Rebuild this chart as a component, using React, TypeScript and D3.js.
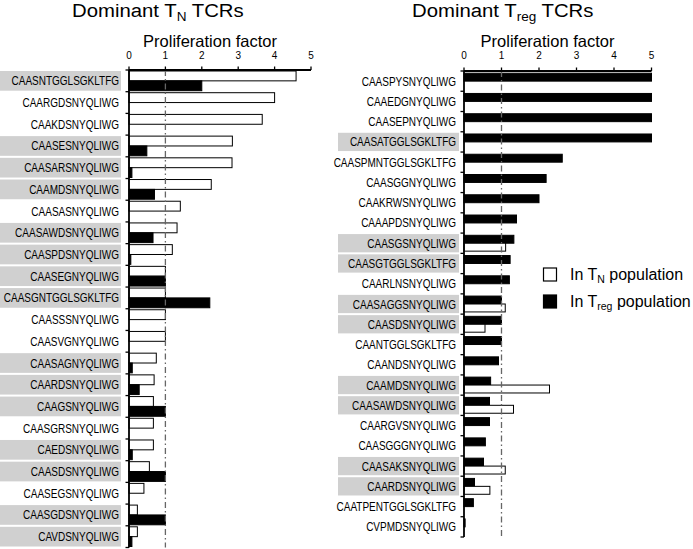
import React from "react";
import * as d3 from "d3";

const leftLabels = [
  "CAASNTGGLSGKLTFG", "CAARGDSNYQLIWG", "CAAKDSNYQLIWG", "CAASESNYQLIWG",
  "CAASARSNYQLIWG", "CAAMDSNYQLIWG", "CAASASNYQLIWG", "CAASAWDSNYQLIWG",
  "CAASPDSNYQLIWG", "CAASEGNYQLIWG", "CAASGNTGGLSGKLTFG", "CAASSSNYQLIWG",
  "CAASVGNYQLIWG", "CAASAGNYQLIWG", "CAARDSNYQLIWG", "CAAGSNYQLIWG",
  "CAASGRSNYQLIWG", "CAEDSNYQLIWG", "CAASDSNYQLIWG", "CAASEGSNYQLIWG",
  "CAASGDSNYQLIWG", "CAVDSNYQLIWG",
];
const leftTN = [4.59, 4.0, 3.66, 2.84, 2.83, 2.26, 1.41, 1.32, 1.19, 1.0, 1.0, 1.0, 1.0, 0.75, 0.69, 0.67, 0.67, 0.67, 0.56, 0.41, 0.23, 0.23];
const leftTreg = [2.0, 0, 0, 0.49, 0.08, 0.7, 0, 0.66, 0.05, 1.0, 2.22, 0, 0, 0.09, 0.28, 1.0, 0, 0.09, 1.0, 0, 1.0, 0.08];
const leftShaded = [1, 0, 0, 1, 1, 1, 0, 1, 1, 1, 1, 0, 0, 1, 1, 1, 0, 1, 1, 0, 1, 1];

const rightLabels = [
  "CAASPYSNYQLIWG", "CAAEDGNYQLIWG", "CAASEPNYQLIWG", "CAASATGGLSGKLTFG",
  "CAASPMNTGGLSGKLTFG", "CAASGGNYQLIWG", "CAAKRWSNYQLIWG", "CAAAPDSNYQLIWG",
  "CAASGSNYQLIWG", "CAASGTGGLSGKLTFG", "CAARLNSNYQLIWG", "CAASAGGSNYQLIWG",
  "CAASDSNYQLIWG", "CAANTGGLSGKLTFG", "CAANDSNYQLIWG", "CAAMDSNYQLIWG",
  "CAASAWDSNYQLIWG", "CAARGVSNYQLIWG", "CAASGGGNYQLIWG", "CAASAKSNYQLIWG",
  "CAARDSNYQLIWG", "CAATPENTGGLSGKLTFG", "CVPMDSNYQLIWG",
];
const rightTreg = [5, 5, 5, 5, 2.62, 2.19, 2.0, 1.4, 1.33, 1.23, 1.21, 1.0, 1.0, 1.0, 0.92, 0.71, 0.68, 0.68, 0.57, 0.52, 0.28, 0.25, 0.03];
const rightTN = [0, 0, 0, 0, 0, 0, 0, 0, 1.11, 0, 0, 1.1, 0.56, 0, 0, 2.28, 1.32, 0, 0, 1.1, 0.69, 0, 0];
const rightShaded = [0, 0, 0, 1, 0, 0, 0, 0, 1, 1, 0, 1, 1, 0, 0, 1, 1, 0, 0, 1, 1, 0, 0];

const xTicks = [0, 1, 2, 3, 4, 5];

const FONT = "'Liberation Sans', Arial, Helvetica, sans-serif";

type PanelProps = {
  labels: string[];
  top: number[];
  bottom: number[];
  topBlack: boolean;
  shaded: number[];
  xRange: [number, number];
  yRange: [number, number];
  grayX: [number, number];
  labelX: number;
  barOffset: number;
  axisTitleX: number;
};

function Panel(p: PanelProps) {
  const x = d3.scaleLinear().domain([0, 5]).range(p.xRange);
  const y = d3.scaleBand<number>().domain(p.labels.map((_, i) => i)).range(p.yRange).padding(0);
  const bw = y.bandwidth();
  const h = (bw - 2 * p.barOffset) / 2;
  const axisY = p.yRange[0];
  const x0 = x(0);
  const rows = p.labels.map((lab, i) => {
    const yt = y(i)!;
    const topV = p.top[i];
    const botV = p.bottom[i];
    return (
      <g key={i}>
        {p.shaded[i] ? (
          <rect x={p.grayX[0]} y={yt + 1} width={p.grayX[1] - p.grayX[0]} height={bw - 2} fill="#d0d0d0" />
        ) : null}
        <text
          transform={`translate(${p.labelX},${yt + bw / 2}) scale(0.8,1)`}
          textAnchor="end"
          dy="0.36em"
          fontSize={12.5}
          fontFamily={FONT}
          fill="#000"
        >
          {lab}
        </text>
        {topV > 0 ? (
          <rect
            x={x0}
            y={yt + p.barOffset}
            width={x(topV) - x0}
            height={h}
            fill={p.topBlack ? "#000" : "#fff"}
            stroke="#000"
            strokeWidth={1}
          />
        ) : null}
        {botV > 0 ? (
          <rect
            x={x0}
            y={yt + p.barOffset + h}
            width={x(botV) - x0}
            height={h}
            fill={p.topBlack ? "#fff" : "#000"}
            stroke="#000"
            strokeWidth={1}
          />
        ) : null}
      </g>
    );
  });
  const boundaries = p.labels.map((_, i) => y(i)!).concat([p.yRange[1]]);
  return (
    <g>
      {rows}
      <line x1={x(1)} x2={x(1)} y1={axisY} y2={p.yRange[1]} stroke="#666" strokeWidth={1.3} strokeDasharray="6,3,1.5,3" />
      <line x1={x0} x2={x(5)} y1={axisY} y2={axisY} stroke="#000" strokeWidth={1.8} />
      <line x1={x0} x2={x0} y1={axisY} y2={p.yRange[1]} stroke="#000" strokeWidth={1.8} />
      {xTicks.map((t) => (
        <g key={t}>
          <line x1={x(t)} x2={x(t)} y1={axisY} y2={axisY - 3.5} stroke="#000" strokeWidth={1.3} />
          <text x={x(t)} y={59} textAnchor="middle" fontSize={10} fontFamily={FONT}>
            {t}
          </text>
        </g>
      ))}
      {boundaries.map((b, i) => (
        <line key={i} x1={x0 - 3.5} x2={x0} y1={b} y2={b} stroke="#000" strokeWidth={1.3} />
      ))}
      <text x={p.axisTitleX} y={47} textAnchor="middle" fontSize={16.5} fontFamily={FONT}>
        Proliferation factor
      </text>
    </g>
  );
}

export default function App() {
  return (
    <svg
      width={693}
      height={549}
      style={{ position: "absolute", left: 0, top: 0, display: "block", background: "#fff" }}
    >
      <rect width={693} height={549} fill="#fff" />
      <text transform="translate(72,17) scale(1.13,1)" fontSize={18} fontFamily={FONT}>
        Dominant T<tspan fontSize={12} dy={4}>N</tspan>
        <tspan dy={-4}> TCRs</tspan>
      </text>
      <text transform="translate(412,17) scale(1.13,1)" fontSize={18} fontFamily={FONT}>
        Dominant T<tspan fontSize={12} dy={4}>reg</tspan>
        <tspan dy={-4}> TCRs</tspan>
      </text>
      <Panel
        labels={leftLabels}
        top={leftTN}
        bottom={leftTreg}
        topBlack={false}
        shaded={leftShaded}
        xRange={[129, 311]}
        yRange={[70, 547.5]}
        grayX={[0, 121]}
        labelX={119}
        barOffset={1}
        axisTitleX={210}
      />
      <Panel
        labels={rightLabels}
        top={rightTreg}
        bottom={rightTN}
        topBlack={true}
        shaded={rightShaded}
        xRange={[464, 651.5]}
        yRange={[71, 537]}
        grayX={[338, 459]}
        labelX={456}
        barOffset={2.2}
        axisTitleX={547.5}
      />
      <rect x={543.5} y={268} width={13} height={13} fill="#fff" stroke="#000" strokeWidth={1.2} />
      <rect x={543.5} y={295} width={13} height={13} fill="#000" stroke="#000" strokeWidth={1.2} />
      <text x={570} y={280} fontSize={16} fontFamily={FONT}>
        In T<tspan fontSize={10.5} dy={3}>N</tspan>
        <tspan dy={-3}> population</tspan>
      </text>
      <text x={570} y={307} fontSize={16} fontFamily={FONT}>
        In T<tspan fontSize={10.5} dy={3}>reg</tspan>
        <tspan dy={-3}> population</tspan>
      </text>
    </svg>
  );
}
